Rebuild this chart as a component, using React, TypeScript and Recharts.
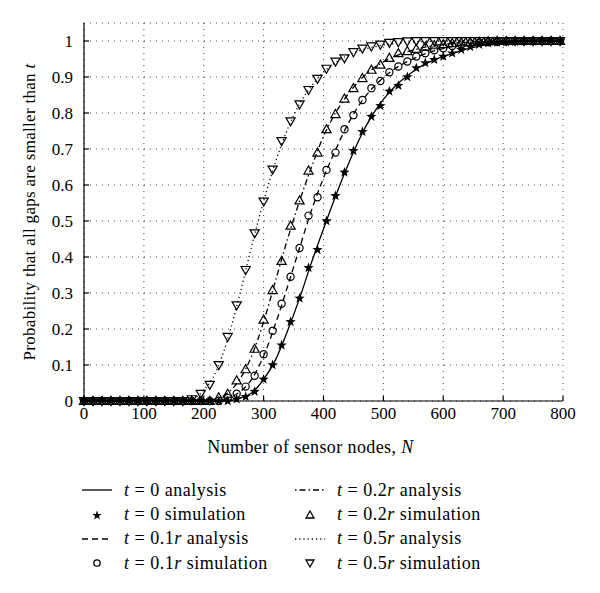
import { CartesianGrid, Label, Line, LineChart, XAxis, YAxis } from "recharts";

// simulation grid: every 15 nodes
const simNodes = [
  0, 15, 30, 45, 60, 75, 90, 105, 120, 135, 150, 165, 180, 195, 210, 225, 240, 255, 270, 285, 300, 315, 330, 345,
  360, 375, 390, 405, 420, 435, 450, 465, 480, 495, 510, 525, 540, 555, 570, 585, 600, 615, 630, 645, 660, 675, 690,
  705, 720, 735, 750, 765, 780, 795,
];

const simT0 = [
  0, 0, 0, 0, 0, 0, 0, 0, 0, 0, 0, 0, 0, 0, 0, 0, 0, 0.005, 0.012, 0.026, 0.06, 0.1, 0.155, 0.22, 0.285, 0.37, 0.42,
  0.5, 0.57, 0.635, 0.695, 0.748, 0.79, 0.82, 0.86, 0.876, 0.9, 0.925, 0.939, 0.948, 0.957, 0.966, 0.976, 0.984, 0.99,
  0.994, 0.996, 0.997, 0.998, 0.999, 0.999, 1, 1, 1,
];

const simT01 = [
  0, 0, 0, 0, 0, 0, 0, 0, 0, 0, 0, 0, 0, 0, 0, 0, 0.008, 0.02, 0.04, 0.07, 0.13, 0.195, 0.27, 0.345, 0.425, 0.515,
  0.566, 0.642, 0.69, 0.755, 0.794, 0.836, 0.869, 0.889, 0.913, 0.929, 0.943, 0.957, 0.966, 0.974, 0.98, 0.986, 0.99,
  0.993, 0.995, 0.997, 0.998, 0.999, 1, 1, 1, 1, 1, 1,
];

const simT02 = [
  0, 0, 0, 0, 0, 0, 0, 0, 0, 0, 0, 0, 0, 0, 0, 0.01, 0.02, 0.057, 0.088, 0.145, 0.226, 0.308, 0.389, 0.487, 0.557,
  0.64, 0.69, 0.755, 0.797, 0.84, 0.869, 0.897, 0.92, 0.934, 0.953, 0.966, 0.972, 0.978, 0.984, 0.988, 0.991, 0.994,
  0.996, 0.997, 0.998, 0.999, 1, 1, 1, 1, 1, 1, 1, 1,
];

const simT05 = [
  0, 0, 0, 0, 0, 0, 0, 0, 0, 0, 0, 0, 0.005, 0.02, 0.045, 0.1, 0.178, 0.266, 0.364, 0.466, 0.554, 0.643, 0.722, 0.777,
  0.824, 0.864, 0.895, 0.923, 0.943, 0.952, 0.969, 0.979, 0.985, 0.99, 0.995, 0.997, 0.999, 1, 1, 1, 1, 1, 1, 1, 1, 1,
  1, 1, 1, 1, 1, 1, 1, 1,
];

// analysis grid: every 20 nodes
const anaNodes = [
  0, 20, 40, 60, 80, 100, 120, 140, 160, 180, 200, 220, 240, 260, 280, 300, 320, 340, 360, 380, 400, 420, 440, 460,
  480, 500, 520, 540, 560, 580, 600, 620, 640, 660, 680, 700, 720, 740, 760, 780, 800,
];

const anaT0 = [
  0, 0, 0, 0, 0, 0, 0, 0, 0, 0, 0, 0, 0, 0.008, 0.022, 0.06, 0.115, 0.195, 0.285, 0.385, 0.478, 0.568, 0.652, 0.728,
  0.79, 0.838, 0.875, 0.903, 0.927, 0.944, 0.957, 0.968, 0.978, 0.986, 0.991, 0.995, 0.997, 0.998, 0.999, 1, 1,
];

const anaT01 = [
  0, 0, 0, 0, 0, 0, 0, 0, 0, 0, 0, 0, 0.008, 0.025, 0.06, 0.125, 0.215, 0.318, 0.425, 0.53, 0.62, 0.697, 0.767, 0.823,
  0.866, 0.898, 0.924, 0.943, 0.958, 0.97, 0.979, 0.986, 0.991, 0.994, 0.996, 0.998, 0.999, 1, 1, 1, 1,
];

const anaT02 = [
  0, 0, 0, 0, 0, 0, 0, 0, 0, 0, 0, 0.006, 0.022, 0.06, 0.125, 0.22, 0.335, 0.45, 0.555, 0.65, 0.735, 0.8, 0.85, 0.89,
  0.92, 0.942, 0.958, 0.97, 0.979, 0.986, 0.991, 0.994, 0.996, 0.998, 0.999, 1, 1, 1, 1, 1, 1,
];

const anaT05 = [
  0, 0, 0, 0, 0, 0, 0, 0, 0, 0.005, 0.03, 0.08, 0.172, 0.295, 0.43, 0.555, 0.665, 0.755, 0.825, 0.875, 0.913, 0.94,
  0.96, 0.973, 0.982, 0.989, 0.993, 0.996, 0.998, 0.999, 1, 1, 1, 1, 1, 1, 1, 1, 1, 1, 1,
];

const xTicks = [0, 100, 200, 300, 400, 500, 600, 700, 800];
const yTicks = [0, 0.1, 0.2, 0.3, 0.4, 0.5, 0.6, 0.7, 0.8, 0.9, 1];

const simData = simNodes.map((n, i) => ({ n, t0: simT0[i], t01: simT01[i], t02: simT02[i], t05: simT05[i] }));
const anaData = anaNodes.map((n, i) => ({ n, t0: anaT0[i], t01: anaT01[i], t02: anaT02[i], t05: anaT05[i] }));

const FONT = '"Liberation Serif", "DejaVu Serif", serif';
const INK = "#000";

function starPoints(cx: number, cy: number, ro: number, ri: number) {
  const pts: string[] = [];
  for (let k = 0; k < 10; k++) {
    const r = k % 2 === 0 ? ro : ri;
    const a = -Math.PI / 2 + (k * Math.PI) / 5;
    pts.push(`${cx + r * Math.cos(a)},${cy + r * Math.sin(a)}`);
  }
  return pts.join(" ");
}

function StarDot(props: any) {
  const { cx, cy, index } = props;
  if (cx == null || cy == null) return <g key={`st-${index}`} />;
  return <polygon key={`st-${index}`} points={starPoints(cx, cy, 5.4, 2.2)} fill={INK} />;
}

function CircleDot(props: any) {
  const { cx, cy, index } = props;
  if (cx == null || cy == null) return <g key={`ci-${index}`} />;
  return <circle key={`ci-${index}`} cx={cx} cy={cy} r={3.6} fill="none" stroke={INK} strokeWidth={1.2} />;
}

function TriUpDot(props: any) {
  const { cx, cy, index } = props;
  if (cx == null || cy == null) return <g key={`tu-${index}`} />;
  const s = 4.6;
  return (
    <polygon
      key={`tu-${index}`}
      points={`${cx},${cy - s} ${cx + s},${cy + s * 0.75} ${cx - s},${cy + s * 0.75}`}
      fill="none"
      stroke={INK}
      strokeWidth={1.2}
    />
  );
}

function TriDownDot(props: any) {
  const { cx, cy, index } = props;
  if (cx == null || cy == null) return <g key={`td-${index}`} />;
  const s = 4.6;
  return (
    <polygon
      key={`td-${index}`}
      points={`${cx},${cy + s} ${cx + s},${cy - s * 0.75} ${cx - s},${cy - s * 0.75}`}
      fill="none"
      stroke={INK}
      strokeWidth={1.2}
    />
  );
}

function YLabel({ viewBox }: any) {
  const cy = viewBox.y + viewBox.height / 2;
  const x = 35;
  return (
    <text
      x={x}
      y={cy}
      transform={`rotate(-90, ${x}, ${cy})`}
      textAnchor="middle"
      fontSize={17}
      letterSpacing={0.3}
      fill={INK}
      fontFamily={FONT}
    >
      Probability that all gaps are smaller than <tspan fontStyle="italic">t</tspan>
    </text>
  );
}

function XLabel({ viewBox }: any) {
  // the original label sits a little left of the plot centre
  const cx = viewBox.x + viewBox.width / 2 - 13;
  return (
    <text x={cx} y={453} textAnchor="middle" fontSize={18} letterSpacing={0.4} fill={INK} fontFamily={FONT}>
      Number of sensor nodes, <tspan fontStyle="italic">N</tspan>
    </text>
  );
}

function LegendSymbol({ kind }: { kind: string }) {
  return (
    <svg width={32} height={16} style={{ display: "block" }}>
      {kind === "solid" && <line x1={1} y1={8} x2={31} y2={8} stroke={INK} strokeWidth={1.3} />}
      {kind === "dash" && <line x1={1} y1={8} x2={31} y2={8} stroke={INK} strokeWidth={1.3} strokeDasharray="6 4" />}
      {kind === "dashdot" && (
        <line x1={1} y1={8} x2={31} y2={8} stroke={INK} strokeWidth={1.3} strokeDasharray="1.5 3 6 3" />
      )}
      {kind === "dot" && <line x1={1} y1={8} x2={31} y2={8} stroke={INK} strokeWidth={1.3} strokeDasharray="1.2 3" />}
      {kind === "star" && <polygon points={starPoints(16, 8.5, 5, 2)} fill={INK} />}
      {kind === "circle" && <circle cx={16} cy={8} r={3.2} fill="none" stroke={INK} strokeWidth={1.3} />}
      {kind === "triup" && <polygon points="16,4 20,11 12,11" fill="none" stroke={INK} strokeWidth={1.3} />}
      {kind === "tridown" && <polygon points="16,12 20,5 12,5" fill="none" stroke={INK} strokeWidth={1.3} />}
    </svg>
  );
}

const legendLeft = [
  { kind: "solid", t: "0", r: false, what: "analysis" },
  { kind: "star", t: "0", r: false, what: "simulation" },
  { kind: "dash", t: "0.1", r: true, what: "analysis" },
  { kind: "circle", t: "0.1", r: true, what: "simulation" },
];
const legendRight = [
  { kind: "dashdot", t: "0.2", r: true, what: "analysis" },
  { kind: "triup", t: "0.2", r: true, what: "simulation" },
  { kind: "dot", t: "0.5", r: true, what: "analysis" },
  { kind: "tridown", t: "0.5", r: true, what: "simulation" },
];

function LegendColumn({ items, left }: { items: typeof legendLeft; left: number }) {
  return (
    <div style={{ position: "absolute", left, top: 0 }}>
      {items.map((it) => (
        <div key={it.kind} style={{ display: "flex", alignItems: "center", height: 24.4 }}>
          <LegendSymbol kind={it.kind} />
          <span style={{ marginLeft: 11, fontSize: 18, letterSpacing: 0.5, whiteSpace: "nowrap" }}>
            <i>t</i> = {it.t}
            {it.r && <i>r</i>} {it.what}
          </span>
        </div>
      ))}
    </div>
  );
}

export default function App() {
  return (
    <div
      style={{
        position: "absolute",
        left: 0,
        top: 0,
        width: 600,
        height: 593,
        background: "#fff",
        fontFamily: FONT,
        color: INK,
      }}
    >
      <LineChart width={600} height={470} data={anaData} margin={{ top: 23, right: 37, bottom: 19, left: 0 }}>
        <CartesianGrid stroke="#444" strokeDasharray="1 5" strokeWidth={1} />
        <XAxis
          dataKey="n"
          type="number"
          domain={[0, 800]}
          ticks={xTicks}
          height={50}
          tickSize={-5}
          tickMargin={11}
          stroke={INK}
          strokeWidth={1.2}
          tick={{ fill: INK, fontSize: 17, fontFamily: FONT }}
        >
          <Label content={<XLabel />} />
        </XAxis>
        <XAxis
          xAxisId="top"
          dataKey="n"
          type="number"
          orientation="top"
          domain={[0, 800]}
          ticks={xTicks}
          height={0}
          tickSize={-5}
          stroke={INK}
          strokeWidth={1.2}
          tickFormatter={() => ""}
        />
        <YAxis
          type="number"
          domain={[0, 1.05]}
          ticks={yTicks}
          width={84}
          tickSize={-5}
          tickMargin={16}
          stroke={INK}
          strokeWidth={1.2}
          tickFormatter={(v: number) => (v === 0 || v === 1 ? String(v) : v.toFixed(1))}
          tick={{ fill: INK, fontSize: 17, fontFamily: FONT }}
        >
          <Label content={<YLabel />} />
        </YAxis>
        <YAxis
          yAxisId="right"
          type="number"
          orientation="right"
          domain={[0, 1.05]}
          ticks={yTicks}
          width={0}
          tickSize={-5}
          stroke={INK}
          strokeWidth={1.2}
          tickFormatter={() => ""}
        />

        <Line data={anaData} dataKey="t0" type="monotone" stroke={INK} strokeWidth={1.3} dot={false} isAnimationActive={false} />
        <Line data={anaData} dataKey="t01" type="monotone" stroke={INK} strokeWidth={1.3} strokeDasharray="6 4" dot={false} isAnimationActive={false} />
        <Line data={anaData} dataKey="t02" type="monotone" stroke={INK} strokeWidth={1.3} strokeDasharray="1.5 3 6 3" dot={false} isAnimationActive={false} />
        <Line data={anaData} dataKey="t05" type="monotone" stroke={INK} strokeWidth={1.3} strokeDasharray="1.2 3" dot={false} isAnimationActive={false} />

        <Line data={simData} dataKey="t05" stroke="none" dot={TriDownDot} activeDot={false} isAnimationActive={false} />
        <Line data={simData} dataKey="t02" stroke="none" dot={TriUpDot} activeDot={false} isAnimationActive={false} />
        <Line data={simData} dataKey="t01" stroke="none" dot={CircleDot} activeDot={false} isAnimationActive={false} />
        <Line data={simData} dataKey="t0" stroke="none" dot={StarDot} activeDot={false} isAnimationActive={false} />
      </LineChart>
      <div style={{ position: "absolute", left: 0, top: 478, width: 600, height: 110 }}>
        <LegendColumn items={legendLeft} left={81} />
        <LegendColumn items={legendRight} left={294} />
      </div>
    </div>
  );
}
